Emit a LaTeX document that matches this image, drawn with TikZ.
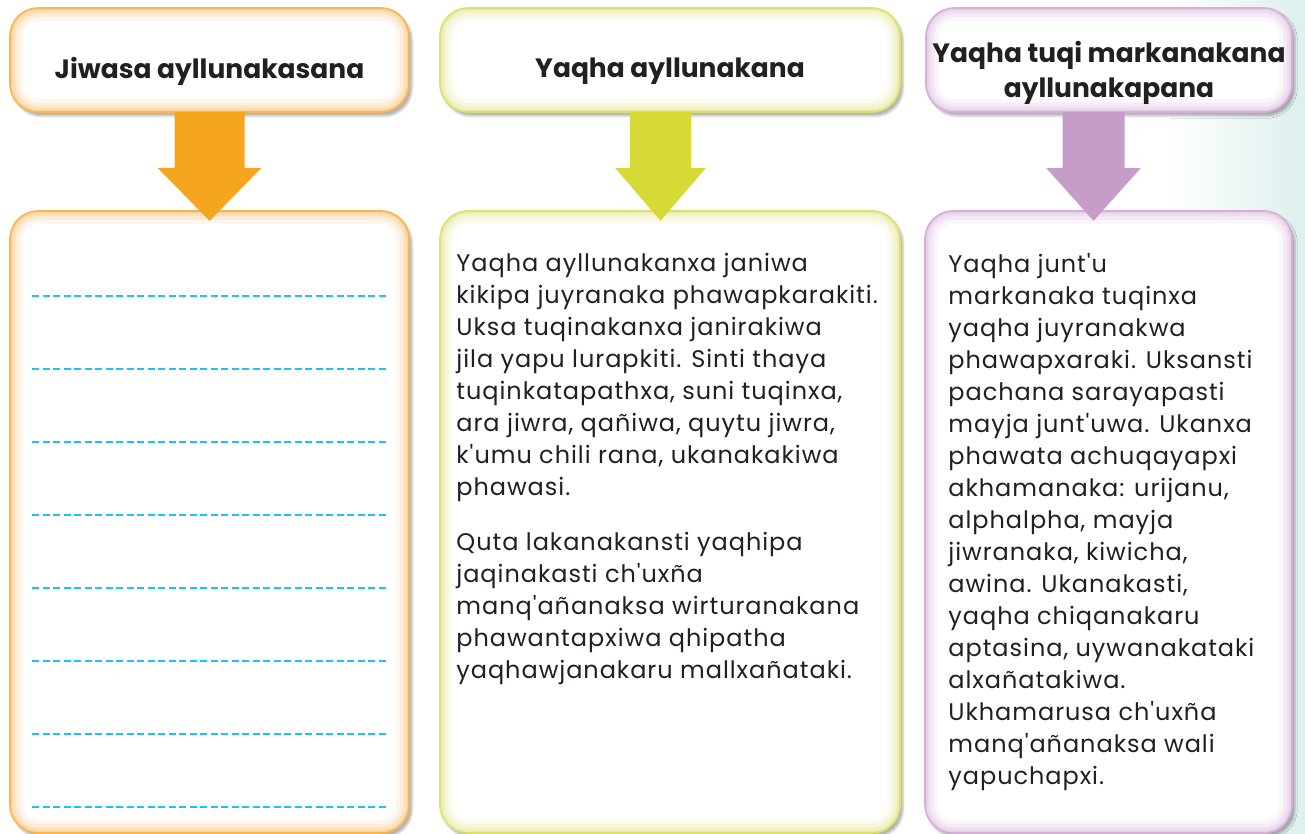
\documentclass[tikz,border=0pt]{standalone}
\usepackage{fontspec}
\setmainfont{Poppins}[Ligatures=TeXOff]
\usetikzlibrary{calc,positioning,shadows.blur}

\definecolor{orangeline}{HTML}{F9B552}
\definecolor{orangearrow}{HTML}{F6A51F}
\definecolor{limeline}{HTML}{DDE070}
\definecolor{limearrow}{HTML}{D7D936}
\definecolor{lilacline}{HTML}{D6AED8}
\definecolor{lilacarrow}{HTML}{C69DC9}
\definecolor{dashblue}{HTML}{1BC3F2}
\definecolor{bgteal}{HTML}{DDEFEE}
\definecolor{inkgrey}{HTML}{231F20}

\tikzset{
  card/.style={draw=#1, line width=1.6pt, fill=white, rounded corners=28pt,
    blur shadow={shadow xshift=3pt, shadow yshift=-4pt, shadow opacity=30},
    path picture={
      \foreach \w/\o in {26/0.10,18/0.14,11/0.2,5/0.3}
        \draw[#1, line width=\w pt, opacity=\o, rounded corners=28pt]
          (path picture bounding box.south west) rectangle (path picture bounding box.north east);
    }},
  headtext/.style={font=\bfseries\fontsize{26.5}{35}\selectfont, text=inkgrey, align=center, inner sep=0pt},
  bodytext/.style={font=\fontsize{24}{32}\selectfont\addfontfeatures{LetterSpace=4}, text=inkgrey, align=left, anchor=north west, inner sep=0pt},
  dashline/.style={dashblue, line width=2pt, dash pattern=on 7pt off 3.5pt}
}

% block arrow hanging under a header box
\newcommand{\bigdown}[5]{%
  \fill[#5] ($(#1.south)+({#2-#3},-1)$) -- ($(#1.south)+({#2+#3},-1)$)
    -- ($(#1.south)+({#2+#3},55)$) -- ($(#1.south)+({#2+#4},55)$)
    -- ($(#1.south)+(#2,108)$)
    -- ($(#1.south)+({#2-#4},55)$) -- ($(#1.south)+({#2-#3},55)$) -- cycle;}

\begin{document}
\begin{tikzpicture}[x=1pt,y=-1pt]
  \useasboundingbox (0,0) rectangle (1305,834);
  \shade[left color=white, right color=bgteal] (1170,0) rectangle (1305,834);

  % header boxes
  \node[card=orangeline, minimum width=399pt, minimum height=104pt] (headA) at (209.5,60) {};
  \node[card=limeline, minimum width=460pt, minimum height=104pt] (headB) at (670,60) {};
  \node[card=lilacline, minimum width=366pt, minimum height=104pt] (headC) at (1109,60) {};

  \node[headtext] (titleA) at ($(headA.center)+(0,11)$) {Jiwasa ayllunakasana};
  \node[headtext] (titleB) at ($(headB.center)+(0,11)$) {Yaqha ayllunakana};
  \node[headtext] (titleC) at ($(headC.center)+(0,13)$) {Yaqha tuqi markanakana\\ayllunakapana};

  % lower boxes
  \node[card=orangeline, minimum width=399pt, minimum height=622pt] (bodyA) at (209.5,522) {};
  \node[card=limeline, minimum width=460pt, minimum height=622pt] (bodyB) at (670,522) {};
  \node[card=lilacline, minimum width=367pt, minimum height=622pt] (bodyC) at (1108.5,522) {};

  \foreach \k in {0,...,7}
    \draw[dashline] ($(bodyA.north west)+(23,{86+73*\k})$) -- ++(355,0);

  \node[bodytext] (textB) at ($(bodyB.north west)+(17,43)$) {%
    Yaqha ayllunakanxa janiwa\\
    kikipa juyranaka phawapkarakiti.\\
    Uksa tuqinakanxa janirakiwa\\
    jila yapu lurapkiti. Sinti thaya\\
    tuqinkatapathxa, suni tuqinxa,\\
    ara jiwra, qañiwa, quytu jiwra,\\
    k'umu chili rana, ukanakakiwa\\
    phawasi.\\[23pt]
    Quta lakanakansti yaqhipa\\
    jaqinakasti ch'uxña\\
    manq'añanaksa wirturanakana\\
    phawantapxiwa qhipatha\\
    yaqhawjanakaru mallxañataki.};

  \node[bodytext] (textC) at ($(bodyC.north west)+(24,43)$) {%
    Yaqha junt'u\\
    markanaka tuqinxa\\
    yaqha juyranakwa\\
    phawapxaraki. Uksansti\\
    pachana sarayapasti\\
    mayja junt'uwa. Ukanxa\\
    phawata achuqayapxi\\
    akhamanaka: urijanu,\\
    alphalpha, mayja\\
    jiwranaka, kiwicha,\\
    awina. Ukanakasti,\\
    yaqha chiqanakaru\\
    aptasina, uywanakataki\\
    alxañatakiwa.\\
    Ukhamarusa ch'uxña\\
    manq'añanaksa wali\\
    yapuchapxi.};

  % arrows
  \bigdown{headA}{0}{35}{52}{orangearrow}
  \bigdown{headB}{-9.5}{30.5}{45.5}{limearrow}
  \bigdown{headC}{-15.5}{31}{47.5}{lilacarrow}
\end{tikzpicture}
\end{document}
